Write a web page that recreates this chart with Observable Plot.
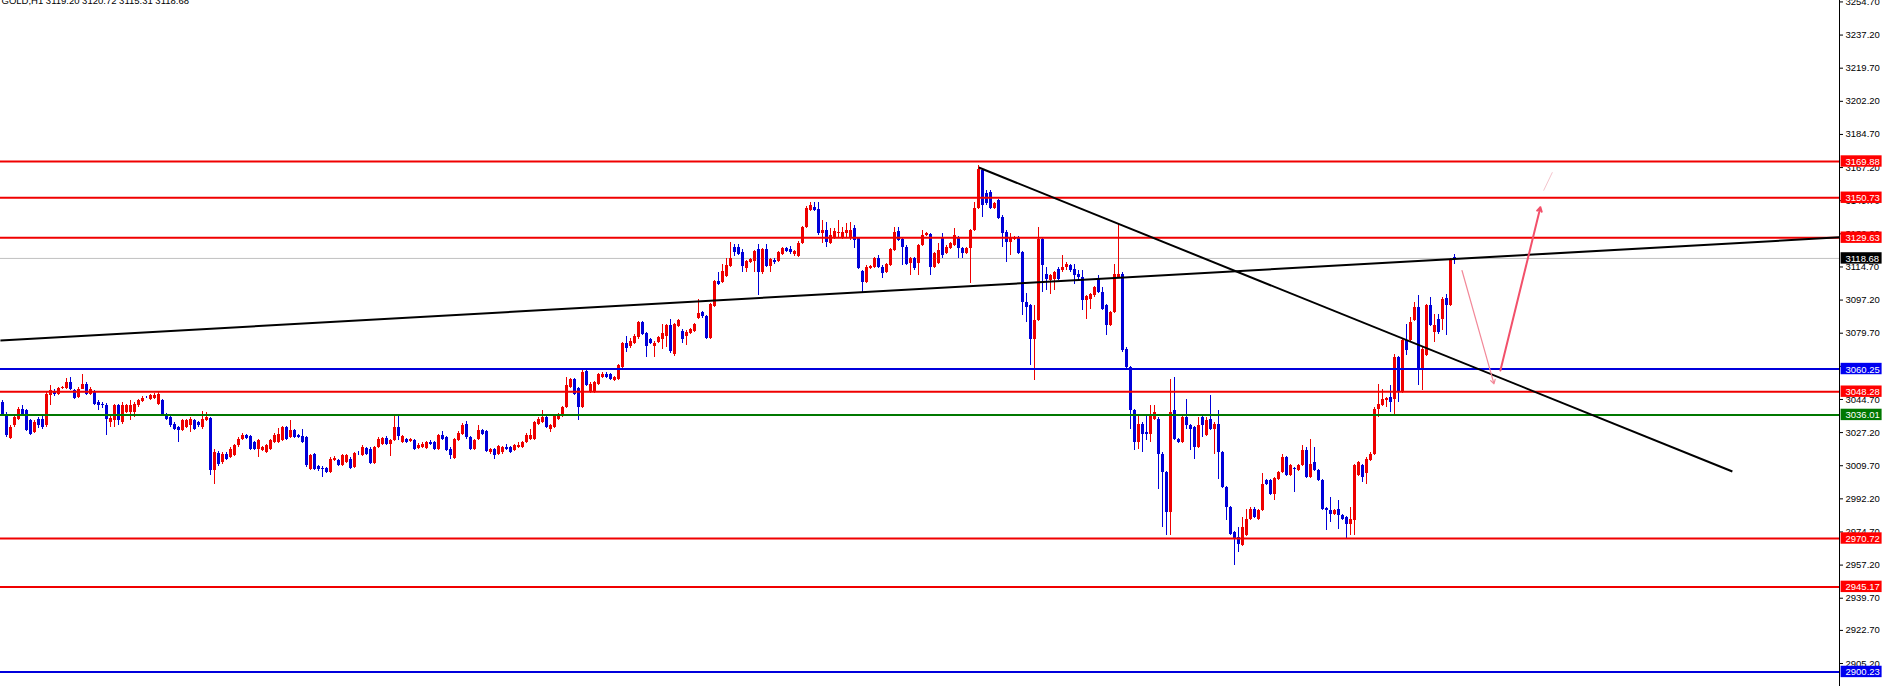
<!DOCTYPE html>
<html><head><meta charset="utf-8">
<script src="https://cdn.jsdelivr.net/npm/d3@7"></script>
<script src="https://cdn.jsdelivr.net/npm/@observablehq/plot@0.6"></script>
<style>html,body{margin:0;padding:0;background:#fff;overflow:hidden}</style>
</head><body><div id="chart"></div>
<script>
// ---------------- DATA ----------------
const chartTitle = "GOLD,H1 3119.20 3120.72 3115.31 3118.68";

const open = [
3042.6,3036.4,3023.6,3030.3,3033.8,3039.1,3038.2,3032.9,3026.8,3033.8,
3033.8,3030.3,3046.1,3048.4,3047.0,3050.0,3050.0,3053.2,3048.8,3045.3,
3049.7,3052.3,3047.0,3048.4,3042.6,3041.7,3041.2,3032.0,3032.9,3040.9,
3032.0,3037.3,3037.3,3037.3,3040.9,3043.1,3045.3,3044.4,3044.7,3041.7,
3043.5,3036.4,3034.7,3031.2,3029.4,3027.6,3029.4,3030.3,3032.9,3032.0,
3029.4,3032.9,3034.2,3006.5,3015.7,3010.9,3015.3,3013.6,3014.4,3019.7,
3023.2,3025.0,3024.7,3021.5,3018.0,3017.1,3016.2,3018.0,3021.5,3021.5,
3022.4,3029.4,3024.1,3027.6,3025.0,3024.7,3024.1,3007.4,3015.0,3008.8,
3007.9,3007.7,3005.6,3011.8,3011.8,3009.2,3010.9,3012.7,3008.3,3015.3,
3014.4,3018.3,3018.0,3010.6,3018.8,3020.6,3023.8,3020.6,3022.4,3029.1,
3021.5,3022.9,3022.2,3022.5,3018.3,3018.8,3018.3,3021.5,3021.5,3017.6,
3025.0,3024.1,3018.0,3013.0,3022.4,3025.9,3031.2,3024.1,3018.0,3023.2,
3027.6,3027.1,3015.9,3017.6,3015.3,3015.9,3018.8,3018.8,3017.1,3018.8,
3018.8,3021.5,3023.2,3023.2,3031.2,3032.0,3034.7,3028.5,3029.4,3033.8,
3035.6,3040.0,3050.5,3054.6,3050.0,3040.0,3058.8,3047.9,3047.9,3052.3,
3055.8,3057.6,3057.1,3054.1,3054.9,3060.8,3073.7,3072.3,3073.7,3076.7,
3084.6,3078.9,3075.8,3071.9,3074.4,3075.8,3077.5,3083.2,3067.9,3082.8,
3080.2,3077.2,3078.9,3080.2,3087.2,3089.9,3088.1,3076.3,3093.4,3106.6,
3106.0,3109.2,3114.5,3124.7,3124.2,3121.6,3113.6,3116.6,3117.2,3123.3,
3111.0,3123.3,3114.5,3117.5,3117.2,3120.7,3123.7,3123.3,3120.7,3119.8,
3126.4,3135.2,3144.0,3145.8,3144.4,3131.7,3133.5,3126.4,3129.1,3131.7,
3129.4,3131.7,3129.9,3134.3,3129.1,3111.8,3106.2,3113.2,3114.1,3118.5,
3114.1,3111.5,3115.0,3122.9,3132.9,3128.7,3124.7,3115.9,3118.5,3115.9,
3125.5,3130.8,3131.2,3114.1,3115.9,3129.9,3121.1,3123.8,3125.5,3129.9,
3124.1,3121.1,3123.8,3133.5,3145.3,3165.0,3152.8,3153.7,3144.9,3149.3,
3140.5,3132.6,3127.3,3128.7,3129.4,3121.8,3095.4,3093.7,3076.1,3085.7,
3128.9,3110.4,3106.9,3107.7,3112.7,3112.1,3113.9,3115.1,3112.7,3110.4,
3108.6,3096.3,3097.2,3098.9,3107.7,3100.7,3093.7,3083.1,3090.1,3108.6,
3110.4,3070.8,3061.1,3038.2,3021.5,3031.2,3026.8,3025.9,3033.8,3033.8,
3015.3,3005.6,2984.5,3038.2,3023.2,3021.5,3034.7,3030.6,3029.4,3018.8,
3034.7,3025.0,3033.8,3028.5,3031.2,3016.2,2997.7,2987.1,2973.9,2971.3,
2966.9,2972.2,2981.0,2986.3,2981.0,2985.4,3001.2,3001.2,2994.2,3002.1,
3005.6,3013.6,3003.9,3007.7,3006.5,3009.2,3017.1,3003.0,3010.9,3006.5,
3001.2,2986.6,2985.4,2983.6,2985.9,2982.7,2981.9,2978.3,2980.1,3003.9,
3009.2,3004.8,3011.8,3015.3,3039.1,3040.8,3043.5,3045.2,3044.4,3066.4,
3047.9,3075.2,3075.2,3085.7,3092.8,3059.3,3067.3,3093.7,3079.6,3086.6,
3086.6,3097.5,3093.7,3119.2];

const high = [
3043.5,3037.3,3030.3,3035.6,3040.0,3040.9,3039.1,3033.8,3033.0,3034.7,
3035.0,3047.9,3051.4,3049.2,3050.5,3051.0,3055.3,3055.8,3049.5,3050.5,
3057.6,3053.0,3050.5,3049.0,3043.5,3042.5,3042.0,3035.6,3041.7,3041.7,
3042.6,3041.7,3043.5,3042.5,3044.4,3045.5,3046.0,3046.8,3047.5,3047.9,
3044.4,3037.0,3035.3,3031.8,3030.0,3033.8,3033.5,3034.7,3033.5,3032.6,
3037.7,3037.3,3034.7,3018.0,3016.5,3016.0,3016.0,3018.8,3020.5,3024.0,
3026.2,3025.6,3025.2,3022.0,3023.0,3019.5,3020.3,3023.0,3026.0,3028.9,
3030.0,3030.0,3033.3,3028.3,3025.6,3028.2,3024.8,3015.2,3015.6,3009.5,
3008.6,3008.4,3013.4,3013.8,3012.5,3015.0,3015.2,3013.4,3016.3,3016.6,
3019.6,3019.0,3018.6,3019.5,3024.0,3024.2,3024.5,3023.0,3035.6,3035.6,
3025.3,3023.4,3023.6,3023.1,3020.8,3021.2,3022.1,3022.6,3022.1,3025.6,
3027.1,3024.7,3018.6,3023.6,3027.0,3031.3,3032.4,3024.7,3023.0,3030.3,
3028.2,3027.7,3018.3,3018.2,3020.0,3019.5,3020.6,3019.4,3020.3,3021.5,
3022.1,3026.0,3028.5,3032.6,3034.4,3038.2,3035.3,3031.0,3036.2,3037.0,
3040.6,3055.8,3055.5,3055.2,3050.6,3059.6,3059.4,3053.0,3053.8,3057.7,
3058.2,3058.2,3057.7,3056.4,3062.6,3074.5,3077.2,3076.5,3078.5,3085.5,
3085.6,3079.5,3076.6,3074.8,3077.5,3083.7,3084.0,3086.3,3084.4,3086.4,
3081.0,3080.4,3081.7,3084.3,3096.9,3090.5,3088.7,3094.9,3107.2,3111.0,
3115.4,3118.9,3127.2,3126.0,3126.0,3123.3,3117.8,3118.6,3123.0,3126.0,
3124.0,3126.0,3118.6,3118.9,3122.2,3124.3,3124.3,3125.1,3123.0,3127.4,
3135.8,3146.0,3148.1,3148.4,3148.4,3138.8,3137.9,3134.3,3134.3,3138.8,
3135.2,3137.0,3137.9,3136.1,3129.7,3112.4,3114.7,3115.2,3119.1,3120.3,
3114.7,3115.9,3124.0,3135.2,3135.2,3129.3,3125.3,3119.1,3119.4,3126.1,
3133.5,3132.3,3131.8,3121.7,3126.4,3131.7,3125.3,3127.0,3134.3,3130.5,
3124.7,3124.4,3134.1,3148.0,3167.6,3166.3,3154.5,3154.6,3148.1,3149.9,
3141.1,3133.2,3131.7,3130.0,3130.0,3122.5,3100.0,3094.3,3093.7,3135.0,
3129.5,3113.9,3110.1,3111.9,3113.9,3120.1,3116.5,3115.7,3115.7,3112.1,
3112.1,3099.2,3100.4,3103.9,3109.5,3103.3,3094.3,3090.7,3115.7,3136.8,
3111.0,3071.4,3061.7,3038.8,3035.6,3031.8,3035.6,3040.8,3040.8,3034.4,
3015.9,3006.2,3054.9,3055.8,3023.8,3035.6,3044.4,3031.2,3030.0,3034.7,
3035.3,3034.7,3046.1,3031.8,3038.2,3016.8,2998.3,2987.7,2974.5,2976.6,
2981.9,2986.3,2986.9,2986.9,2986.0,3004.8,3001.8,3001.8,3003.1,3006.2,
3015.3,3014.2,3009.8,3008.3,3009.8,3019.7,3018.8,3023.2,3018.8,3007.1,
3001.8,2987.2,2992.4,2986.0,2990.7,2983.3,2982.5,2987.2,3009.8,3011.5,
3009.8,3013.3,3015.9,3039.7,3052.3,3049.6,3045.3,3051.4,3068.1,3067.0,
3075.8,3084.0,3087.5,3095.4,3098.9,3071.4,3094.3,3098.1,3089.3,3089.3,
3097.8,3099.8,3118.9,3120.72];

const low = [
3035.6,3024.1,3022.9,3029.4,3033.0,3035.6,3027.1,3025.0,3026.0,3029.0,
3028.5,3029.4,3040.9,3045.5,3046.5,3049.3,3049.7,3048.8,3044.0,3044.5,
3049.3,3046.5,3046.5,3041.0,3038.2,3039.5,3025.4,3029.4,3029.4,3030.3,
3031.2,3036.5,3032.9,3034.7,3040.0,3042.5,3044.5,3043.8,3044.0,3041.0,
3035.6,3033.0,3029.4,3027.8,3021.5,3027.0,3028.8,3026.8,3027.8,3029.5,
3028.5,3032.3,3003.9,2999.0,3009.0,3010.0,3012.0,3013.0,3014.0,3019.0,
3022.5,3023.0,3017.3,3017.0,3013.6,3016.5,3015.5,3017.3,3020.8,3021.0,
3021.8,3022.5,3023.5,3023.5,3023.5,3020.8,3008.4,3006.8,3006.7,3006.3,
3003.0,3005.0,3005.0,3011.2,3009.0,3008.6,3010.2,3007.0,3007.6,3014.6,
3013.8,3014.6,3010.0,3010.0,3018.2,3020.0,3020.0,3014.1,3021.8,3022.4,
3021.0,3020.8,3021.6,3017.4,3017.7,3018.2,3017.7,3020.0,3017.0,3017.0,
3022.4,3016.5,3012.6,3012.3,3021.8,3025.3,3023.2,3017.4,3017.4,3022.6,
3025.3,3016.0,3015.3,3012.2,3014.6,3015.3,3017.4,3015.6,3016.5,3018.2,
3018.2,3020.9,3022.6,3022.6,3030.6,3031.4,3028.8,3026.8,3028.8,3033.2,
3034.7,3039.4,3049.9,3046.4,3032.9,3039.4,3050.8,3047.3,3047.3,3051.7,
3055.2,3055.2,3054.0,3053.5,3054.3,3060.0,3069.1,3071.3,3073.0,3076.0,
3077.7,3066.1,3073.2,3066.6,3073.8,3070.5,3071.4,3068.7,3067.0,3082.2,
3074.0,3072.6,3078.3,3079.6,3086.6,3087.2,3075.7,3075.7,3092.8,3104.2,
3105.4,3108.6,3113.9,3119.8,3120.0,3111.0,3111.0,3116.0,3111.0,3099.0,
3110.4,3113.9,3111.0,3115.4,3116.6,3120.1,3121.8,3121.0,3119.8,3119.2,
3125.8,3134.6,3143.4,3143.4,3131.0,3126.4,3124.7,3125.8,3128.5,3129.1,
3128.8,3129.9,3128.2,3123.8,3112.6,3100.9,3105.6,3112.6,3113.5,3113.5,
3107.9,3110.9,3114.4,3122.3,3127.6,3115.0,3114.7,3109.7,3112.3,3109.7,
3124.9,3130.2,3109.7,3113.5,3115.3,3118.5,3120.5,3123.2,3124.9,3118.5,
3118.5,3120.5,3105.3,3132.9,3144.7,3140.5,3146.9,3144.3,3144.3,3139.0,
3124.7,3116.7,3120.3,3128.1,3120.5,3088.4,3085.0,3062.0,3054.0,3085.1,
3100.7,3101.6,3099.8,3101.6,3107.1,3111.5,3112.1,3111.5,3105.1,3106.9,
3091.0,3086.6,3091.9,3098.3,3100.1,3091.3,3077.8,3082.5,3089.5,3108.0,
3069.0,3060.5,3028.5,3017.1,3018.0,3016.2,3022.4,3021.5,3033.2,2996.8,
2976.6,2972.2,2972.2,3022.6,3020.9,3020.9,3028.5,3017.1,3012.7,3018.2,
3024.1,3024.4,3027.9,3015.3,3002.1,2997.1,2980.1,2972.5,2956.3,2963.4,
2966.3,2971.6,2980.4,2981.3,2980.4,2984.8,2998.9,2993.6,2990.7,3001.5,
3005.0,3003.3,3003.3,2995.1,3005.9,3008.6,3002.4,3002.4,3005.9,3000.6,
2985.7,2974.8,2979.2,2983.0,2975.7,2980.4,2970.4,2972.2,2972.2,3003.3,
3000.4,2999.5,3011.2,3014.7,3034.7,3040.2,3040.0,3037.3,3036.4,3042.6,
3047.3,3067.3,3074.6,3085.1,3051.4,3048.8,3066.7,3082.5,3074.3,3078.7,
3080.5,3077.8,3093.1,3115.31];

const close = [
3036.4,3025.0,3029.4,3034.7,3039.1,3036.4,3027.6,3025.9,3032.0,3030.3,
3029.4,3047.0,3048.8,3046.7,3050.0,3050.3,3053.2,3049.7,3044.7,3049.7,
3052.3,3047.0,3049.7,3041.7,3041.2,3040.9,3033.8,3034.2,3040.9,3032.9,
3040.9,3040.9,3040.9,3041.7,3043.5,3044.7,3045.0,3046.1,3046.5,3047.0,
3036.4,3033.8,3030.3,3028.5,3027.6,3032.9,3032.9,3033.8,3028.5,3030.3,
3033.8,3034.7,3006.5,3016.2,3010.0,3015.3,3012.7,3018.0,3019.7,3023.2,
3025.4,3023.6,3018.0,3018.0,3022.4,3018.8,3019.7,3022.4,3025.4,3025.9,
3029.4,3023.2,3027.6,3024.1,3024.1,3021.5,3009.2,3014.4,3007.4,3007.0,
3007.4,3005.6,3012.7,3013.0,3009.5,3014.4,3014.4,3007.8,3015.7,3015.0,
3018.8,3015.3,3010.6,3018.8,3023.2,3023.6,3020.6,3022.4,3029.1,3024.7,
3024.7,3021.5,3022.9,3018.0,3020.1,3020.6,3021.5,3020.6,3017.6,3025.0,
3023.2,3017.1,3014.4,3022.9,3026.4,3030.6,3024.1,3018.0,3022.4,3027.6,
3025.9,3016.6,3017.6,3014.4,3019.4,3018.8,3018.0,3016.2,3019.7,3020.1,
3021.5,3025.4,3025.4,3032.0,3033.8,3034.7,3029.4,3030.3,3035.6,3036.4,
3040.0,3051.4,3054.9,3047.0,3040.0,3058.5,3051.4,3052.3,3053.2,3057.1,
3057.6,3055.8,3054.6,3055.8,3062.0,3073.7,3070.9,3074.9,3077.5,3084.6,
3078.4,3072.3,3074.0,3074.0,3076.7,3078.9,3083.2,3069.6,3083.7,3086.0,
3076.1,3079.7,3081.1,3083.7,3089.5,3087.8,3076.3,3094.3,3106.6,3104.8,
3111.9,3114.9,3118.9,3121.6,3120.7,3114.5,3117.2,3118.0,3122.4,3111.0,
3123.3,3114.5,3118.0,3116.3,3121.6,3123.7,3122.4,3121.6,3122.4,3126.8,
3135.2,3145.3,3146.7,3144.0,3131.7,3133.5,3127.3,3130.8,3133.1,3132.2,
3132.6,3133.5,3133.5,3128.2,3113.2,3106.2,3114.1,3114.6,3118.5,3114.1,
3110.6,3115.3,3123.4,3132.6,3128.2,3124.7,3115.3,3118.5,3113.2,3125.5,
3130.8,3131.7,3114.1,3121.1,3122.9,3120.3,3124.7,3126.4,3130.8,3123.8,
3121.1,3123.8,3133.5,3145.3,3165.5,3146.5,3147.5,3144.9,3147.5,3139.6,
3131.7,3127.3,3129.4,3129.4,3121.1,3095.4,3093.0,3076.1,3085.7,3128.9,
3114.8,3107.7,3109.5,3111.3,3107.7,3113.9,3115.7,3112.1,3109.9,3108.6,
3096.3,3098.6,3099.8,3103.3,3100.7,3091.9,3083.1,3090.1,3110.4,3110.4,
3069.9,3061.1,3038.2,3021.5,3031.2,3025.9,3025.9,3035.6,3037.3,3015.3,
3005.6,2984.5,3037.3,3023.2,3021.5,3034.7,3030.3,3028.5,3018.8,3030.3,
3030.3,3032.9,3028.5,3031.2,3016.2,2997.7,2987.1,2973.1,2970.4,2967.8,
2976.6,2981.0,2986.3,2981.9,2985.4,2999.5,2999.5,2994.2,3002.5,3005.6,
3013.6,3003.9,3009.2,3007.0,3009.2,3017.1,3003.0,3010.0,3006.5,3001.2,
2986.3,2985.4,2983.6,2985.4,2982.7,2981.0,2978.3,2981.0,3009.2,3010.9,
3003.0,3012.7,3015.3,3039.1,3041.7,3044.4,3044.7,3042.6,3066.4,3047.9,
3075.2,3069.9,3084.9,3092.8,3059.3,3070.8,3093.7,3083.1,3083.1,3079.6,
3097.2,3093.7,3118.3,3118.68];

// horizontal price levels
const levelValues = [3169.88, 3150.73, 3129.63, 3060.25, 3048.28, 3036.01, 2970.72, 2945.17, 2900.23];
const levelKinds  = ["red", "red", "red", "blue", "red", "green", "red", "red", "blue"];
const bidPrice = 3118.68;

// right axis tick labels
const tickValues = [3254.70, 3237.20, 3219.70, 3202.20, 3184.70, 3167.20, 3149.70, 3132.20, 3114.70, 3097.20,
  3079.70, 3062.20, 3044.70, 3027.20, 3009.70, 2992.20, 2974.70, 2957.20, 2939.70, 2922.70, 2905.20];

// trend lines (bar index, price)
const trendX1 = [-0.4, 244.2];
const trendY1 = [3075.3, 3166.7];
const trendX2 = [459.4, 432.6];
const trendY2 = [3129.8, 3006.1];

// forecast arrows (bar index, price)
const arrowX1 = [365.0, 374.6];
const arrowY1 = [3112.3, 3059.5];
const arrowX2 = [373.0, 384.6];
const arrowY2 = [3052.4, 3145.7];
const arrowKinds = ["down", "up"];
const tailX = [385.4, 387.6];
const tailY = [3154.5, 3164.2];

// ---------------- LAYOUT / STYLE ----------------
const W = 1886, H = 686, marginRight = 47;
const barStep = 4, barOffset = 1.5;
const plotW = W - marginRight;
const xDomain = [-barOffset / barStep, (plotW - barOffset) / barStep];
const pxPerPoint = 1.893, refPrice = 3169.88, refY = 161;
const yDomain = [refPrice - (H - refY) / pxPerPoint, refPrice + refY / pxPerPoint];
// tag box geometry (pixels converted to scale units)
const tagLeft = xDomain[1] + 1.6 / barStep, tagRight = xDomain[1] + 42.6 / barStep;
const tagHalf = 5.7 / pxPerPoint;

const COLORS = {red: "#f00000", blue: "#0000dc", green: "#007800", bid: "#000000"};
const TAGCOLORS = {red: "#ff0000", blue: "#0000f0", green: "#007800", bid: "#000000"};
const BULL = "#ee0000", BEAR = "#0000d8";

const candles = open.map((o, i) => ({i, o, h: high[i], l: low[i], c: close[i]}));
const levels = levelValues.map((v, k) => ({value: v, color: COLORS[levelKinds[k]], tag: TAGCOLORS[levelKinds[k]]}));
const tags = levels.concat([{value: bidPrice, color: COLORS.bid, tag: TAGCOLORS.bid}]);
const trendlines = trendX1.map((x, k) => ({x1: x, y1: trendY1[k], x2: trendX2[k], y2: trendY2[k]}));
const arrows = arrowX1.map((x, k) => ({x1: x, y1: arrowY1[k], x2: arrowX2[k], y2: arrowY2[k], kind: arrowKinds[k]}));
const tails = [{x1: tailX[0], y1: tailY[0], x2: tailX[1], y2: tailY[1]}];
const candleColor = d => d.c >= d.o ? BULL : BEAR;

const chart = Plot.plot({
  width: W, height: H,
  marginLeft: 0, marginRight, marginTop: 0, marginBottom: 0,
  x: {domain: xDomain, axis: null},
  y: {domain: yDomain, axis: null},
  color: {type: "identity"},
  style: {fontFamily: "'Liberation Sans', Arial, sans-serif", fontSize: "9.5px", background: "white", overflow: "visible"},
  marks: [
    Plot.ruleY([bidPrice], {stroke: "#c0c0c0", strokeWidth: 1}),
    Plot.ruleX(candles, {x: "i", y1: "l", y2: "h", stroke: candleColor, strokeWidth: 1, shapeRendering: "crispEdges"}),
    Plot.ruleX(candles, {x: "i", y1: "o", y2: "c", stroke: candleColor, strokeWidth: 3, shapeRendering: "crispEdges"}),
    Plot.ruleY(levels, {y: "value", stroke: "color", strokeWidth: 2}),
    Plot.link(trendlines, {x1: "x1", y1: "y1", x2: "x2", y2: "y2", stroke: "#000", strokeWidth: 2}),
    Plot.arrow(arrows, {x1: "x1", y1: "y1", x2: "x2", y2: "y2",
      stroke: d => d.kind === "up" ? "#f2506a" : "#f28898",
      strokeWidth: d => d.kind === "up" ? 2 : 1.2, headLength: 7}),
    Plot.link(tails, {x1: "x1", y1: "y1", x2: "x2", y2: "y2", stroke: "#f4c4cc", strokeWidth: 1}),
    Plot.ruleX([xDomain[1]], {stroke: "#000", strokeWidth: 1, shapeRendering: "crispEdges"}),
    Plot.axisY({anchor: "right", ticks: tickValues, tickFormat: d => d.toFixed(2), tickSize: 3, tickPadding: 3, label: null, dy: 1}),
    Plot.rect(tags, {x1: () => tagLeft, x2: () => tagRight, y1: d => d.value - tagHalf, y2: d => d.value + tagHalf, fill: "tag"}),
    Plot.text(tags, {y: "value", text: d => d.value.toFixed(2), frameAnchor: "right", dx: 6, dy: 0.5, textAnchor: "start", fill: "white"}),
    Plot.text([chartTitle], {frameAnchor: "top-left", text: d => d, dx: 1, dy: 3.3, lineAnchor: "bottom", textAnchor: "start", fill: "#000", fontSize: 9.5})
  ]
});
document.getElementById("chart").append(chart);
</script>
</body></html>
